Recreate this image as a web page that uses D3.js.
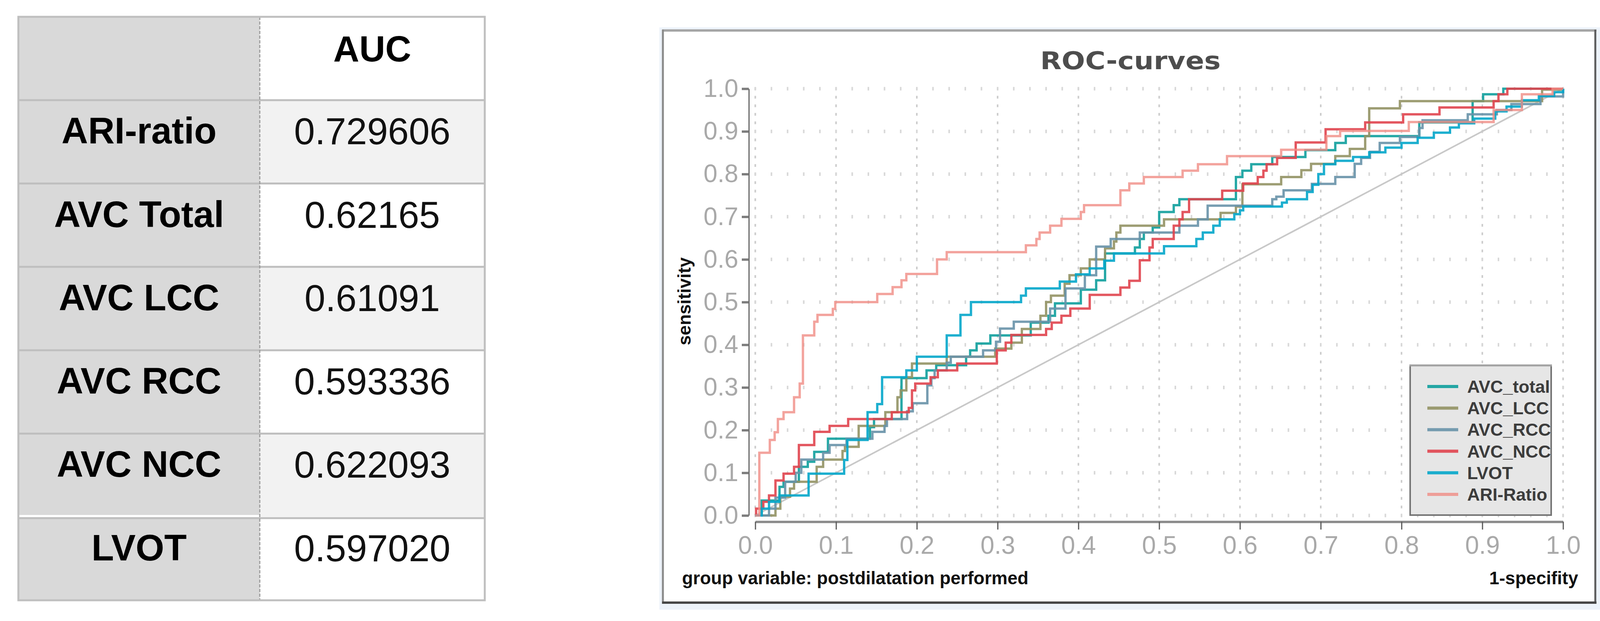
<!DOCTYPE html>
<html>
<head>
<meta charset="utf-8">
<script src="https://cdn.jsdelivr.net/npm/d3@7"></script>
<style>
  body { margin: 0; background: #fff; }
  svg { display: block; }
</style>
</head>
<body>
<div id="chart_container"></div>
<script>
// ---------- data ----------
const tableHeader = "AUC"
const tableLabels = ["ARI-ratio", "AVC Total", "AVC LCC", "AVC RCC", "AVC NCC", "LVOT"]
const aucValues = ["0.729606", "0.62165", "0.61091", "0.593336", "0.622093", "0.597020"]

const seriesNames = ["AVC_total", "AVC_LCC", "AVC_RCC", "AVC_NCC", "LVOT", "ARI-Ratio"]

// [1-specificity, sensitivity] at each rise of the step curve
const rocAVCTotal = [[0,0],[0.008,0.035],[0.03,0.067],[0.035,0.079],[0.054,0.114],[0.065,0.126],[0.073,0.149],[0.09,0.18],[0.142,0.207],[0.147,0.226],[0.181,0.322],[0.212,0.34],[0.224,0.352],[0.261,0.372],[0.266,0.387],[0.274,0.403],[0.291,0.422],[0.341,0.452],[0.363,0.468],[0.371,0.497],[0.403,0.529],[0.422,0.551],[0.433,0.614],[0.47,0.628],[0.476,0.648],[0.481,0.663],[0.492,0.675],[0.5,0.711],[0.518,0.727],[0.525,0.741],[0.595,0.793],[0.603,0.808],[0.614,0.823],[0.64,0.84],[0.681,0.856],[0.718,0.873],[0.731,0.889],[0.822,0.921],[0.888,0.971],[0.901,0.987],[0.926,1.0],[1,1]]
const rocAVCLCC = [[0,0],[0.025,0.016],[0.031,0.044],[0.043,0.063],[0.048,0.079],[0.076,0.114],[0.084,0.131],[0.108,0.151],[0.111,0.161],[0.128,0.21],[0.161,0.242],[0.176,0.277],[0.18,0.293],[0.187,0.324],[0.194,0.356],[0.237,0.372],[0.297,0.391],[0.317,0.405],[0.33,0.437],[0.353,0.468],[0.36,0.5],[0.366,0.515],[0.383,0.543],[0.389,0.563],[0.403,0.579],[0.414,0.6],[0.433,0.626],[0.444,0.642],[0.447,0.663],[0.452,0.679],[0.506,0.694],[0.576,0.709],[0.595,0.724],[0.603,0.776],[0.651,0.793],[0.676,0.809],[0.688,0.824],[0.718,0.842],[0.736,0.859],[0.755,0.889],[0.76,0.954],[0.798,0.971],[0.974,0.998],[1,1]]
const rocAVCRCC = [[0,0],[0.017,0.016],[0.025,0.042],[0.037,0.079],[0.05,0.1],[0.057,0.131],[0.084,0.147],[0.092,0.165],[0.113,0.18],[0.145,0.196],[0.16,0.21],[0.163,0.226],[0.188,0.244],[0.195,0.263],[0.213,0.305],[0.218,0.322],[0.222,0.34],[0.237,0.358],[0.242,0.372],[0.282,0.387],[0.298,0.407],[0.303,0.438],[0.32,0.454],[0.365,0.485],[0.384,0.532],[0.408,0.563],[0.422,0.63],[0.44,0.648],[0.476,0.663],[0.525,0.679],[0.548,0.694],[0.56,0.726],[0.64,0.741],[0.645,0.747],[0.654,0.762],[0.689,0.777],[0.718,0.793],[0.742,0.824],[0.75,0.838],[0.761,0.852],[0.773,0.873],[0.798,0.887],[0.822,0.908],[0.826,0.926],[0.882,0.94],[0.918,0.95],[0.936,0.964],[0.972,0.982],[1,1]]
const rocAVCNCC = [[0,0],[0.001,0.016],[0.01,0.032],[0.017,0.047],[0.025,0.082],[0.035,0.098],[0.048,0.114],[0.054,0.165],[0.073,0.196],[0.092,0.21],[0.115,0.226],[0.169,0.242],[0.19,0.252],[0.194,0.293],[0.198,0.309],[0.217,0.324],[0.226,0.34],[0.25,0.356],[0.299,0.387],[0.31,0.405],[0.317,0.423],[0.36,0.437],[0.367,0.452],[0.379,0.468],[0.39,0.485],[0.414,0.517],[0.452,0.534],[0.463,0.55],[0.476,0.598],[0.488,0.628],[0.492,0.648],[0.518,0.679],[0.525,0.694],[0.529,0.711],[0.537,0.741],[0.578,0.761],[0.604,0.778],[0.622,0.793],[0.629,0.808],[0.633,0.823],[0.646,0.838],[0.669,0.874],[0.706,0.905],[0.755,0.921],[0.802,0.94],[0.847,0.956],[0.914,0.971],[0.92,0.987],[0.931,1.0],[1,1]]
const rocLVOT = [[0,0],[0.008,0.016],[0.017,0.032],[0.03,0.047],[0.066,0.098],[0.11,0.13],[0.114,0.177],[0.139,0.242],[0.151,0.261],[0.157,0.324],[0.187,0.34],[0.2,0.372],[0.237,0.422],[0.254,0.47],[0.267,0.5],[0.329,0.515],[0.335,0.532],[0.377,0.548],[0.397,0.565],[0.414,0.579],[0.432,0.597],[0.444,0.614],[0.506,0.631],[0.546,0.648],[0.554,0.663],[0.567,0.679],[0.575,0.694],[0.593,0.706],[0.6,0.715],[0.604,0.724],[0.652,0.733],[0.658,0.741],[0.683,0.758],[0.69,0.775],[0.697,0.8],[0.704,0.823],[0.718,0.831],[0.74,0.84],[0.76,0.851],[0.78,0.862],[0.8,0.873],[0.82,0.885],[0.84,0.897],[0.86,0.909],[0.871,0.919],[0.89,0.93],[0.916,0.947],[0.93,0.958],[0.949,0.973],[0.97,0.983],[0.989,0.992],[1,1]]
const rocARIRatio = [[0,0],[0.005,0.147],[0.018,0.177],[0.024,0.195],[0.028,0.226],[0.035,0.242],[0.048,0.277],[0.055,0.309],[0.059,0.422],[0.073,0.454],[0.077,0.47],[0.096,0.484],[0.099,0.5],[0.151,0.519],[0.17,0.535],[0.181,0.551],[0.187,0.566],[0.225,0.6],[0.237,0.617],[0.335,0.633],[0.348,0.648],[0.352,0.663],[0.365,0.679],[0.379,0.695],[0.403,0.711],[0.407,0.727],[0.452,0.762],[0.463,0.778],[0.481,0.793],[0.529,0.808],[0.548,0.823],[0.584,0.842],[0.651,0.857],[0.707,0.889],[0.724,0.901],[0.809,0.922],[0.914,0.95],[0.949,0.987],[0.987,1.0],[1,1]]

const xTicks = [0.0, 0.1, 0.2, 0.3, 0.4, 0.5, 0.6, 0.7, 0.8, 0.9, 1.0]
const yTicks = [0.0, 0.1, 0.2, 0.3, 0.4, 0.5, 0.6, 0.7, 0.8, 0.9, 1.0]

// ---------- styles ----------
const seriesColors = ["#0e9e9c", "#929264", "#6892a8", "#e0444e", "#04a6ca", "#f08c84"]
const seriesOpacity = [0.9, 0.9, 0.9, 0.9, 0.9, 0.8]
const sansFont = "'Liberation Sans', Arial, sans-serif"

const width = 4106
const height = 1589

const svg = d3.select("#chart_container")
    .append("svg")
    .attr("width", width)
    .attr("height", height)

// ---------- AUC table ----------
function drawTable(){
    const x0 = 47, x1 = 1241, xDiv = 665
    const rows = d3.scaleBand()
        .domain([tableHeader].concat(tableLabels))
        .range([43, 1536])
    const g = svg.append("g").attr("class", "auc_table")

    const allRows = [tableHeader].concat(tableLabels)

    g.selectAll("rect.left")
        .data(allRows)
        .enter().append("rect")
        .attr("class", "left")
        .attr("x", x0).attr("y", d => rows(d))
        .attr("width", xDiv - x0).attr("height", rows.bandwidth())
        .attr("fill", "#d9d9d9")

    g.selectAll("rect.right")
        .data(allRows)
        .enter().append("rect")
        .attr("class", "right")
        .attr("x", xDiv).attr("y", d => rows(d))
        .attr("width", x1 - xDiv).attr("height", rows.bandwidth())
        .attr("fill", (d, i) => (i % 2 === 1) ? "#f2f2f2" : "#ffffff")

    // double rule above the last row
    const last = tableLabels[tableLabels.length - 1]
    g.append("rect")
        .attr("x", x0).attr("y", rows(last) - 5)
        .attr("width", xDiv - x0).attr("height", 6)
        .attr("fill", "#ffffff")

    g.selectAll("line.sep")
        .data(tableLabels)
        .enter().append("line")
        .attr("class", "sep")
        .attr("x1", x0).attr("x2", x1)
        .attr("y1", d => d === last ? rows(d) + 3 : rows(d))
        .attr("y2", d => d === last ? rows(d) + 3 : rows(d))
        .attr("stroke", "#bfbfbf")
        .attr("stroke-width", 5)

    g.append("line")
        .attr("x1", xDiv).attr("x2", xDiv)
        .attr("y1", 43).attr("y2", 1536)
        .attr("stroke", "#9c9c9c")
        .attr("stroke-width", 3)
        .attr("stroke-dasharray", "8,4")

    g.append("rect")
        .attr("x", x0).attr("y", 43)
        .attr("width", x1 - x0).attr("height", 1536 - 43)
        .attr("fill", "none")
        .attr("stroke", "#bfbfbf")
        .attr("stroke-width", 5)

    g.append("text")
        .attr("x", (xDiv + x1) / 2).attr("y", rows(tableHeader) + 114)
        .attr("text-anchor", "middle")
        .attr("font-family", sansFont).attr("font-size", 92).attr("font-weight", "bold")
        .attr("fill", "#000")
        .text(tableHeader)

    g.selectAll("text.label")
        .data(tableLabels)
        .enter().append("text")
        .attr("class", "label")
        .attr("x", (x0 + xDiv) / 2).attr("y", d => rows(d) + 111)
        .attr("text-anchor", "middle")
        .attr("font-family", sansFont).attr("font-size", 94).attr("font-weight", "bold")
        .attr("fill", "#000")
        .text(d => d)

    g.selectAll("text.value")
        .data(aucValues)
        .enter().append("text")
        .attr("class", "value")
        .attr("x", (xDiv + x1) / 2).attr("y", (d, i) => rows(tableLabels[i]) + 113)
        .attr("text-anchor", "middle")
        .attr("font-family", sansFont).attr("font-size", 96)
        .attr("fill", "#111")
        .text(d => d)
}

// ---------- ROC chart ----------
function drawChart(){
    const g = svg.append("g").attr("class", "roc_chart")

    // panel frame
    g.append("rect")
        .attr("x", 1688).attr("y", 70).attr("width", 2414).attr("height", 1490)
        .attr("fill", "#edf3fa")
    g.append("rect")
        .attr("x", 1697).attr("y", 78).attr("width", 4084 - 1697).attr("height", 1542 - 78)
        .attr("fill", "#ffffff")
    g.append("line").attr("x1", 1695).attr("x2", 4087).attr("y1", 78).attr("y2", 78)
        .attr("stroke", "#a6a6a6").attr("stroke-width", 6)
    g.append("line").attr("x1", 1697).attr("x2", 1697).attr("y1", 76).attr("y2", 1545)
        .attr("stroke", "#8a8a8a").attr("stroke-width", 5)
    g.append("line").attr("x1", 4084).attr("x2", 4084).attr("y1", 76).attr("y2", 1545)
        .attr("stroke", "#5c5c5c").attr("stroke-width", 5)
    g.append("line").attr("x1", 1695).attr("x2", 4087).attr("y1", 1542).attr("y2", 1542)
        .attr("stroke", "#474747").attr("stroke-width", 6)

    g.append("text")
        .attr("x", 2894).attr("y", 177)
        .attr("text-anchor", "middle")
        .attr("font-family", "'DejaVu Sans', sans-serif").attr("font-size", 62).attr("font-weight", "bold")
        .attr("textLength", 462).attr("lengthAdjust", "spacingAndGlyphs")
        .attr("fill", "#4d4d4d")
        .text("ROC-curves")

    const x = d3.scaleLinear().domain([0, 1]).range([1933.5, 4001.5])
    const y = d3.scaleLinear().domain([0, 1]).range([1319, 227])

    // dotted grid
    const grid = g.append("g").attr("class", "grid")
    grid.selectAll("line.gx")
        .data(xTicks)
        .enter().append("line")
        .attr("class", "gx")
        .attr("x1", d => x(d)).attr("x2", d => x(d))
        .attr("y1", y(1) - 3.5).attr("y2", y(0) + 4)
        .attr("stroke", "#cccccc").attr("stroke-width", 4)
        .attr("stroke-dasharray", "7," + (0.02 * (y(0) - y(1)) - 7))
    grid.selectAll("line.gy")
        .data(yTicks)
        .enter().append("line")
        .attr("class", "gy")
        .attr("x1", x(0) - 2).attr("x2", x(1) + 3)
        .attr("y1", d => y(d)).attr("y2", d => y(d))
        .attr("stroke", "#d8d8d8").attr("stroke-width", 9)
        .attr("stroke-dasharray", "4," + (0.02 * (x(1) - x(0)) - 4))

    // chance diagonal
    g.append("line")
        .attr("x1", x(0)).attr("y1", y(0)).attr("x2", x(1)).attr("y2", y(1))
        .attr("stroke", "#c8c8c8").attr("stroke-width", 4)

    // curves
    const curves = [rocAVCTotal, rocAVCLCC, rocAVCRCC, rocAVCNCC, rocLVOT, rocARIRatio]
    const line = d3.line()
        .x(d => x(d[0]))
        .y(d => y(d[1]))
        .curve(d3.curveStepAfter)

    g.append("g").attr("class", "curves")
        .selectAll("path")
        .data(curves)
        .enter().append("path")
        .attr("d", line)
        .attr("fill", "none")
        .attr("stroke", (d, i) => seriesColors[i])
        .attr("stroke-opacity", (d, i) => seriesOpacity[i])
        .attr("stroke-width", 6)
        .attr("stroke-linejoin", "miter")

    // axes
    const yAxis = g.append("g")
        .attr("transform", "translate(1917,0)")
        .call(d3.axisLeft(y).tickValues(yTicks).tickSize(18).tickSizeOuter(0)
            .tickPadding(9).tickFormat(d3.format(".1f")))
    const xAxis = g.append("g")
        .attr("transform", "translate(0,1335)")
        .call(d3.axisBottom(x).tickValues(xTicks).tickSize(20).tickSizeOuter(0)
            .tickPadding(17).tickFormat(d3.format(".1f")))

    yAxis.select(".domain").attr("stroke", "#666").attr("stroke-width", 3)
    yAxis.selectAll(".tick line").attr("stroke", "#7c7c7c").attr("stroke-width", 6)
    xAxis.select(".domain").attr("stroke", "#8a8a8a").attr("stroke-width", 6)
    xAxis.selectAll(".tick line").attr("stroke", "#5a5a5a").attr("stroke-width", 3)
    ;[yAxis, xAxis].forEach(ax => {
        ax.attr("font-family", sansFont).attr("font-size", 64)
        ax.selectAll(".tick text").attr("fill", "#a9a9a9")
    })

    // axis titles
    g.append("text")
        .attr("transform", "translate(1768,771) rotate(-90)")
        .attr("text-anchor", "middle")
        .attr("font-family", sansFont).attr("font-size", 46).attr("font-weight", "bold")
        .attr("fill", "#111")
        .text("sensitivity")
    g.append("text")
        .attr("x", 1746).attr("y", 1495)
        .attr("font-family", sansFont).attr("font-size", 46).attr("font-weight", "bold")
        .attr("fill", "#111")
        .text("group variable: postdilatation performed")
    g.append("text")
        .attr("x", 4040).attr("y", 1495)
        .attr("text-anchor", "end")
        .attr("font-family", sansFont).attr("font-size", 46).attr("font-weight", "bold")
        .attr("fill", "#111")
        .text("1-specifity")

    // legend
    const legend = g.append("g").attr("class", "legend")
    legend.append("rect")
        .attr("x", 3610).attr("y", 935).attr("width", 361).attr("height", 383)
        .attr("fill", "#e6e6e6")
        .attr("stroke", "#747474").attr("stroke-width", 4)
    legend.append("line")
        .attr("x1", 3608).attr("x2", 3973).attr("y1", 935).attr("y2", 935)
        .attr("stroke", "#a2a2a2").attr("stroke-width", 5)

    const rowY = d3.scalePoint().domain(seriesNames).range([989, 1265])
    const items = legend.selectAll("g.item")
        .data(seriesNames)
        .enter().append("g")
        .attr("class", "item")
        .attr("transform", d => "translate(0," + rowY(d) + ")")
    items.append("line")
        .attr("x1", 3654).attr("x2", 3733)
        .attr("stroke", (d, i) => seriesColors[i])
        .attr("stroke-opacity", (d, i) => seriesOpacity[i])
        .attr("stroke-width", 8)
    items.append("text")
        .attr("x", 3756).attr("y", 16)
        .attr("font-family", sansFont).attr("font-size", 45).attr("font-weight", "bold")
        .attr("fill", "#3c3c3c")
        .text(d => d)
}

drawTable()
drawChart()
</script>
</body>
</html>
